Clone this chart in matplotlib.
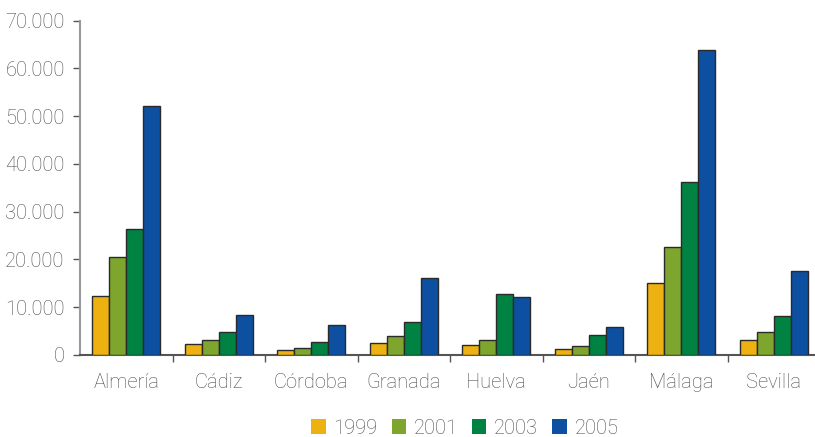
import matplotlib
matplotlib.use("Agg")
import matplotlib.pyplot as plt
import numpy as np
from matplotlib.ticker import FuncFormatter, FixedLocator

categories = ["Almería", "Cádiz", "Córdoba", "Granada", "Huelva", "Jaén", "Málaga", "Sevilla"]
years = ["1999", "2001", "2003", "2005"]
v1999 = [12300, 2200, 1000, 2450, 2000, 1200, 15000, 3200]
v2001 = [20500, 3200, 1400, 4000, 3200, 1800, 22700, 4900]
v2003 = [26400, 4750, 2650, 6850, 12800, 4100, 36200, 8200]
v2005 = [52200, 8400, 6300, 16200, 12100, 5800, 63800, 17600]
series = [v1999, v2001, v2003, v2005]
colors = ["#EDB111", "#7EA52D", "#008243", "#0D4FA0"]

plt.rcParams['font.family'] = ['Roboto', 'DejaVu Sans']
plt.rcParams['font.weight'] = 'light'

fs = 14.5
tc = "#4d4d4d"

fig = plt.figure(figsize=(8.15, 4.37), dpi=100)
ax = fig.add_axes([80/815, 1-355/437, 1-80/815, (355-20.7)/437])

x = np.arange(len(categories))
w = 0.183
for i, (vals, c, yr) in enumerate(zip(series, colors, years)):
    ax.bar(x + (i - 1.5) * w, vals, width=w, color=c, edgecolor="#2a2a2a",
           linewidth=1.0, label=yr, zorder=3)

ax.set_ylim(0, 70000)
ax.set_xlim(-0.5, -0.5 + 735/92.5)
ax.set_yticks(np.arange(0, 70001, 10000))
ax.yaxis.set_major_formatter(FuncFormatter(lambda v, p: "0" if v == 0 else f"{int(v):,}".replace(",", ".")))

ax.set_xticks(x)
ax.set_xticklabels(categories)
ax.xaxis.set_minor_locator(FixedLocator(np.arange(0.5, 7.6, 1.0)))
ax.tick_params(axis="x", which="major", length=0, pad=13, labelsize=fs, labelcolor=tc)
ax.tick_params(axis="x", which="minor", length=5, width=1, color="#555555", direction="out")
ax.tick_params(axis="y", which="major", length=5, width=1, color="#555555", pad=6,
               labelsize=fs, labelcolor=tc)

for s in ["top", "right"]:
    ax.spines[s].set_visible(False)
ax.spines["left"].set_color("#999999")
ax.spines["left"].set_linewidth(1.5)
ax.spines["bottom"].set_color("#555555")
ax.spines["bottom"].set_linewidth(1.5)

leg = fig.legend(loc="center", bbox_to_anchor=(465/815, 1-428/437), ncol=4, frameon=False,
                 fontsize=fs, handlelength=0.7, handleheight=0.7, handletextpad=0.4,
                 columnspacing=0.7)
for t in leg.get_texts():
    t.set_color(tc)
for h in leg.legend_handles:
    h.set_edgecolor("none")

fig.savefig("out.png", dpi=100)
